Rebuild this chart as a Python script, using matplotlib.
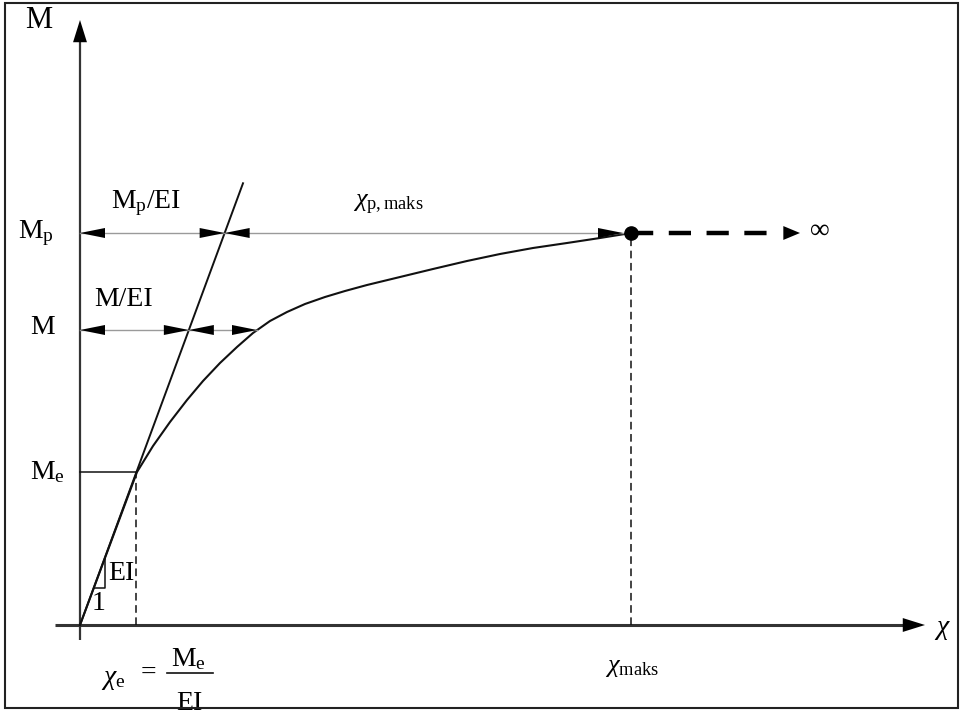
import matplotlib
matplotlib.use("Agg")
import matplotlib.pyplot as plt
from matplotlib.patches import Rectangle

plt.rcParams['font.family'] = ['Liberation Serif', 'DejaVu Serif']
plt.rcParams['mathtext.fontset'] = 'custom'
plt.rcParams['mathtext.rm'] = 'Liberation Serif'
plt.rcParams['mathtext.it'] = 'Liberation Serif:italic'
plt.rcParams['mathtext.bf'] = 'Liberation Serif:bold'

# ---- data (diagram units: curvature chi, moment M) ----
M_e = 153          # elastic limit moment
M_mid = 295        # intermediate moment M
M_p = 392          # plastic moment
chi_e = 56         # elastic limit curvature
chi_max = 551      # maximum curvature
EI = 2.71          # slope of elastic line
chi_el_end = 163   # end of drawn elastic line
chi_inf = 720      # end of dashed "infinity" arrow
chi_M_curve = 177  # curvature on the curve at moment M

curve_chi = [0, 57, 73, 90, 107, 123, 140, 157, 173, 190, 207, 225, 245, 265,
             287, 320, 353, 387, 420, 453, 487, 520, 551]
curve_M = [0, 153, 179, 203, 225, 244, 262, 278, 292, 304, 313, 321, 328, 334,
           340, 348, 356, 364, 371, 377, 382, 387, 392]

# triangle for slope EI (legs on elastic line)
tri_M = [37, 67]

fig = plt.figure(figsize=(9.64, 7.14), dpi=100)
ax = fig.add_axes([0, 0, 1, 1])
ax.set_xlim(-80, 884)
ax.set_ylim(-89, 625)
ax.axis('off')

# border
fig.patches.append(Rectangle((5 / 964, 6 / 714), 953 / 964, 705 / 714,
                             transform=fig.transFigure, fill=False,
                             edgecolor='#222222', lw=1.5))


def head(tip, tail, color='black', hl=1.8, hw=0.36):
    ax.annotate('', xy=tip, xytext=tail,
                arrowprops=dict(arrowstyle=f'-|>,head_length={hl},head_width={hw}',
                                color=color, lw=0, shrinkA=0, shrinkB=0,
                                mutation_scale=10))


# axes
ax.plot([-25, 830], [0, 0], color='#333333', lw=2.2, solid_capstyle='butt')
head((845, 0), (815, 0), hl=1.6, hw=0.5)
ax.plot([0, 0], [-15, 590], color='#333333', lw=1.6, solid_capstyle='butt')
head((0, 605), (0, 575), hl=1.6, hw=0.5)

# elastic line
ax.plot([0, chi_el_end], [0, EI * chi_el_end], color='#111111', lw=1.4)

# moment-curvature curve
ax.plot(curve_chi, curve_M, color='#111111', lw=1.5, solid_joinstyle='round')

# Me horizontal and vertical dashed
ax.plot([0, chi_e], [M_e, M_e], color='#111111', lw=1.1)
ax.plot([chi_e, chi_e], [0, M_e], color='#111111', lw=1.1, dashes=(5, 3))
ax.plot([chi_max, chi_max], [0, M_p], color='#111111', lw=1.1, dashes=(5, 3))

# slope triangle
x_lo = tri_M[0] / EI
x_hi = tri_M[1] / EI
ax.plot([x_hi, x_hi, x_lo], [tri_M[1], tri_M[0], tri_M[0]], color='#111111', lw=1.1)

# dimension lines
gray = '#9a9a9a'
chi_Mp_el = M_p / EI
chi_M_el = M_mid / EI
chi_dot_edge = chi_max - 8
ax.plot([0, chi_dot_edge], [M_p, M_p], color=gray, lw=1.0)
ax.plot([0, chi_M_curve], [M_mid, M_mid], color=gray, lw=1.0)
L = 26
dims = [(0, chi_Mp_el, M_p), (chi_Mp_el, chi_dot_edge, M_p),
        (0, chi_M_el, M_mid), (chi_M_el, chi_M_curve, M_mid)]
for a, b, y in dims:
    head((a, y), (a + L, y))
    head((b, y), (b - L, y))

# plastic plateau to infinity
ax.plot([chi_max, chi_inf - 18], [M_p, M_p], color='black', lw=3.2, dashes=(5, 3.5))
head((chi_inf, M_p), (chi_inf - 20, M_p), hl=1.2, hw=0.5)
ax.plot([chi_max], [M_p], 'o', color='black', ms=9.5)

# labels
fs = 20
ax.text(-41, 605, 'M', fontsize=22, ha='center', va='center')
ax.text(-44, M_p, r'$\mathrm{M_p}$', fontsize=fs, ha='center', va='center')
ax.text(-37, M_mid + 2, 'M', fontsize=fs, ha='center', va='center')
ax.text(-33, M_e, r'$\mathrm{M_e}$', fontsize=fs, ha='center', va='center')
ax.text(66, 422, r'$\mathrm{M_p/EI}$', fontsize=fs, ha='center', va='center')
ax.text(44, 326, 'M/EI', fontsize=fs, ha='center', va='center')
ax.text(308, 420, r'$\chi_{\mathrm{p,maks}}$', fontsize=19, ha='center', va='center')
ax.text(740, M_p + 2, '∞', fontsize=20, ha='center', va='center')
ax.text(862, -5, r'$\chi$', fontsize=20, ha='center', va='center')
ax.text(552, -43, r'$\chi_{\mathrm{maks}}$', fontsize=19, ha='center', va='center')
ax.text(41, 52, 'EI', fontsize=fs, ha='center', va='center')
ax.text(19, 21, '1', fontsize=fs, ha='center', va='center')

# chi_e = Me / EI
ax.text(33, -55, r'$\chi_{\mathrm{e}}$', fontsize=fs, ha='center', va='center')
ax.text(68, -48, '=', fontsize=fs, ha='center', va='center')
ax.text(108, -34, r'$\mathrm{M_e}$', fontsize=fs, ha='center', va='center')
ax.plot([87, 133], [-48, -48], color='#111111', lw=1.2)
ax.text(109, -78, 'EI', fontsize=fs, ha='center', va='center')

fig.savefig('out.png', dpi=100)
